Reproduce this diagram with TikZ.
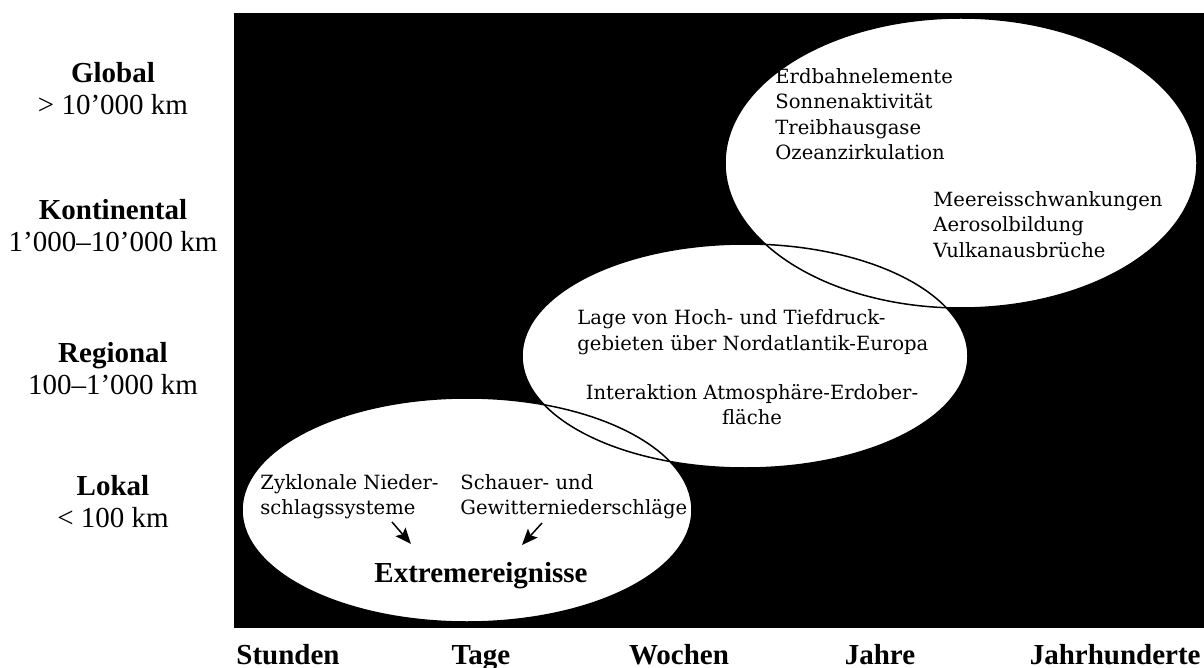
\documentclass[tikz,border=0pt]{standalone}
\usepackage{fontspec}
\setmainfont{Liberation Serif}
\newfontfamily\slabfont{DejaVu Serif}
\usetikzlibrary{arrows.meta}

\begin{document}
\begin{tikzpicture}[
  x=0.5pt,
  y=-0.5pt,
  scalelabel/.style={
    anchor=base,
    inner sep=0pt,
    font=\fontsize{14.5}{16}\selectfont\bfseries
  },
  kmlabel/.style={
    anchor=base,
    inner sep=0pt,
    font=\fontsize{14.5}{16}\selectfont
  },
  timelabel/.style={
    anchor=base,
    inner sep=0pt,
    font=\fontsize{14.5}{16}\selectfont\bfseries
  },
  factor/.style={
    anchor=base west,
    inner sep=0pt,
    font=\slabfont\fontsize{9.8}{12}\selectfont
  },
  factormid/.style={
    factor,
    anchor=base
  },
  blob/.style={
    fill=white
  },
  rim/.style={
    draw=black,
    line width=0.75pt
  },
  arr/.style={
    -{Stealth[length=8pt,width=6.5pt,inset=1.5pt]},
    line width=0.75pt
  }
]

\useasboundingbox (0,0) rectangle (1204,668);

% Background
\fill[black] (234,13) rectangle (1204,628);

% Ellipse centres
\coordinate (glob) at (961,163);
\coordinate (reg) at (745,356);
\coordinate (lok) at (467,510);

% Ellipses
\fill[blob] (glob) ellipse [x radius=118pt, y radius=72.5pt];
\fill[blob] (reg) ellipse [x radius=111.5pt, y radius=56pt];
\fill[blob] (lok) ellipse [x radius=112.5pt, y radius=56pt];
\draw[rim] (glob) ellipse [x radius=118pt, y radius=72.5pt];
\draw[rim] (reg) ellipse [x radius=111.5pt, y radius=56pt];
\draw[rim] (lok) ellipse [x radius=112.5pt, y radius=56pt];

% Global factors
\node[factor] (erd) at (775,84) {Erdbahnelemente};
\node[factor] (son) at (775,109) {Sonnenaktivität};
\node[factor] (tre) at (775,135) {Treibhausgase};
\node[factor] (oze) at (775,160) {Ozeanzirkulation};
\node[factor] (mee) at (933,207) {Meereisschwankungen};
\node[factor] (aer) at (933,232) {Aerosolbildung};
\node[factor] (vul) at (933,257) {Vulkanausbrüche};

% Regional factors
\node[factor] (lag1) at (577,324) {Lage von Hoch- und Tiefdruck-};
\node[factor] (lag2) at (577,350) {gebieten über Nordatlantik-Europa};
\node[factormid] (int1) at (752,399) {Interaktion Atmosphäre-Erdober-};
\node[factormid] (int2) at (752,424) {fläche};

% Local factors
\node[factor] (zyk1) at (260,489) {Zyklonale Nieder-};
\node[factor] (zyk2) at (260,514) {schlagssysteme};
\node[factor] (sch1) at (460,489) {Schauer- und};
\node[factor] (sch2) at (460,514) {Gewitterniederschläge};
\node[timelabel] (ext) at (481,582) {Extremereignisse};

% Arrows
\coordinate (zykend) at (392,522);
\coordinate (zyktip) at (411,544);
\coordinate (schend) at (542,523);
\coordinate (schtip) at (522,545);
\draw[arr] (zykend) -- (zyktip);
\draw[arr] (schend) -- (schtip);

% Spatial scales
\node[scalelabel] (glo) at (113,83) {Global};
\node[kmlabel] (glokm) at (113,115) {> 10’000 km};
\node[scalelabel] (kon) at (113,220) {Kontinental};
\node[kmlabel] (konkm) at (113,252) {1’000–10’000 km};
\node[scalelabel] (rgn) at (113,362) {Regional};
\node[kmlabel] (rgnkm) at (113,394) {100–1’000 km};
\node[scalelabel] (lka) at (113,495) {Lokal};
\node[kmlabel] (lkakm) at (113,527) {< 100 km};

% Time scales
\node[timelabel] (std) at (288,664) {Stunden};
\node[timelabel] (tag) at (481,664) {Tage};
\node[timelabel] (woc) at (679,664) {Wochen};
\node[timelabel] (jah) at (880,664) {Jahre};
\node[timelabel, anchor=base east] (jhd) at (1201,664) {Jahrhunderte};

\end{tikzpicture}
\end{document}
